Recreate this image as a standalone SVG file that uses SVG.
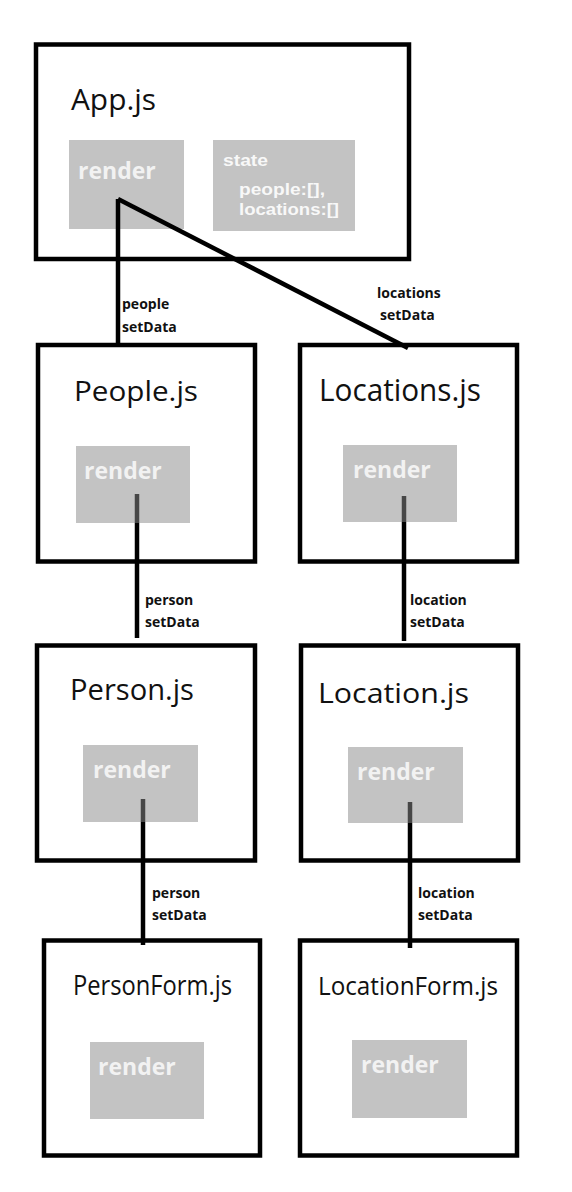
<svg xmlns="http://www.w3.org/2000/svg" width="572" height="1192" viewBox="0 0 572 1192">
<style>
.box{fill:#fff;stroke:#000;stroke-width:4.5}
.rbox{fill:#c3c3c3}
.title{font-family:"Open Sans",sans-serif;font-size:28px;fill:#111}
.rtext{font-family:"Open Sans",sans-serif;font-weight:700;font-size:23px;fill:#f2f2f2}
.stext{font-family:"Liberation Sans",Arial,sans-serif;font-weight:700;font-size:17px;fill:#f8f8f8}
.lbl{font-family:"Open Sans",sans-serif;font-weight:700;font-size:14px;fill:#111}
.c{stroke:#000;stroke-width:4.5;fill:none}
.ci{stroke:#474747;stroke-width:4.5;fill:none}
</style>
<rect width="572" height="1192" fill="#fff"/>
<g id="app">
<rect class="box" x="36" y="44.5" width="373" height="214.5"/>
<text class="title" x="71" y="110" style="font-size:29px" textLength="85" lengthAdjust="spacingAndGlyphs">App.js</text>
<rect class="rbox" x="69" y="140" width="115" height="89"/>
<text class="rtext" x="78" y="179">render</text>
<rect class="rbox" x="213" y="140" width="142" height="91"/>
<text class="stext" x="223" y="166" textLength="45" lengthAdjust="spacingAndGlyphs">state</text>
<text class="stext" x="239" y="195" textLength="86" lengthAdjust="spacingAndGlyphs">people:[],</text>
<text class="stext" x="239" y="215" textLength="100" lengthAdjust="spacingAndGlyphs">locations:[]</text>
</g>
<g id="people">
<rect class="box" x="38" y="345" width="217" height="216.5"/>
<text class="title" x="74" y="401" style="font-size:27px" textLength="124" lengthAdjust="spacingAndGlyphs">People.js</text>
<rect class="rbox" x="76" y="446" width="114" height="77"/>
<text class="rtext" x="84" y="479">render</text>
</g>
<g id="locations">
<rect class="box" x="300" y="345" width="217" height="216.5"/>
<text class="title" x="319" y="401" style="font-size:31px" textLength="162" lengthAdjust="spacingAndGlyphs">Locations.js</text>
<rect class="rbox" x="343" y="445" width="114" height="77"/>
<text class="rtext" x="353" y="478">render</text>
</g>
<g id="person">
<rect class="box" x="37" y="645.5" width="218" height="215"/>
<text class="title" x="70" y="700" style="font-size:29px" textLength="124" lengthAdjust="spacingAndGlyphs">Person.js</text>
<rect class="rbox" x="83" y="745" width="115" height="77"/>
<text class="rtext" x="93" y="778">render</text>
</g>
<g id="location">
<rect class="box" x="301" y="645.5" width="217" height="215"/>
<text class="title" x="318" y="703" style="font-size:28px" textLength="151" lengthAdjust="spacingAndGlyphs">Location.js</text>
<rect class="rbox" x="348" y="747" width="115" height="76"/>
<text class="rtext" x="357" y="780">render</text>
</g>
<g id="personform">
<rect class="box" x="44" y="940.5" width="216" height="215"/>
<text class="title" x="73" y="995" style="font-size:26.5px" textLength="159" lengthAdjust="spacingAndGlyphs">PersonForm.js</text>
<rect class="rbox" x="90" y="1042" width="114" height="77"/>
<text class="rtext" x="98" y="1075">render</text>
</g>
<g id="locationform">
<rect class="box" x="300" y="940.5" width="217" height="215"/>
<text class="title" x="318" y="995" style="font-size:26px" textLength="180" lengthAdjust="spacingAndGlyphs">LocationForm.js</text>
<rect class="rbox" x="352" y="1040" width="115" height="78"/>
<text class="rtext" x="361" y="1073">render</text>
</g>
<g id="connectors">
<path class="c" d="M118 199 V345"/>
<path class="c" d="M118 199 L408 348"/>
<path class="ci" d="M137 494 V523"/>
<path class="c" d="M137 523 V638"/>
<path class="ci" d="M404 496 V522"/>
<path class="c" d="M404 522 V641"/>
<path class="ci" d="M143 799 V822"/>
<path class="c" d="M143 822 V945"/>
<path class="ci" d="M410 802 V823"/>
<path class="c" d="M410 823 V948"/>
<text class="lbl" x="122" y="309">people</text>
<text class="lbl" x="122" y="332">setData</text>
<text class="lbl" x="377" y="298">locations</text>
<text class="lbl" x="380" y="320">setData</text>
<text class="lbl" x="145" y="605">person</text>
<text class="lbl" x="145" y="627">setData</text>
<text class="lbl" x="410" y="605">location</text>
<text class="lbl" x="410" y="627">setData</text>
<text class="lbl" x="152" y="898">person</text>
<text class="lbl" x="152" y="920">setData</text>
<text class="lbl" x="418" y="898">location</text>
<text class="lbl" x="418" y="920">setData</text>
</g>
</svg>
